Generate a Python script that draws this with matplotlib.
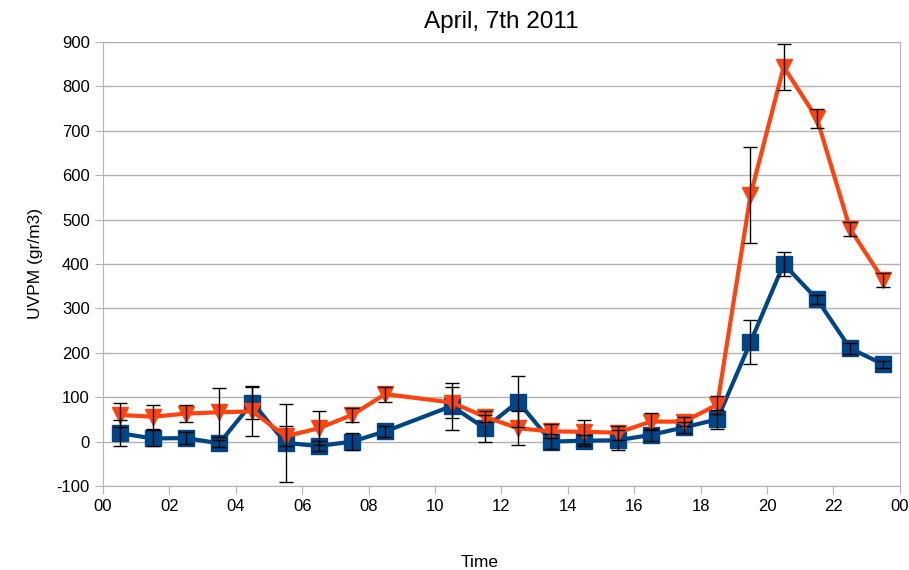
import matplotlib.pyplot as plt

plt.rcParams["font.family"] = ["Liberation Sans", "DejaVu Sans"]
plt.rcParams["axes.unicode_minus"] = False

# hours (half past each hour), no sample at 09:30
hours = [0.5, 1.5, 2.5, 3.5, 4.5, 5.5, 6.5, 7.5, 8.5, 10.5, 11.5, 12.5, 13.5,
         14.5, 15.5, 16.5, 17.5, 18.5, 19.5, 20.5, 21.5, 22.5, 23.5]

red_vals = [60, 56, 63, 66, 68, 12, 30, 60, 107, 88, 56, 30, 23,
            22, 20, 45, 45, 83, 555, 844, 728, 479, 364]
red_err = [28, 27, 19, 55, 55, 22, 38, 16, 17, 35, 12, 38, 16,
           27, 16, 19, 10, 20, 108, 52, 22, 16, 16]

blue_vals = [19, 7, 8, -4, 88, -3, -10, 0, 23, 80, 30, 90, 0,
             2, 3, 15, 32, 50, 224, 400, 321, 210, 174]
blue_err = [29, 18, 13, 8, 38, 88, 12, 20, 13, 53, 31, 57, 17,
            12, 22, 14, 12, 22, 49, 26, 10, 12, 8]

xticks = list(range(0, 25, 2))
xlabels = ["%02d" % (h % 24) for h in xticks]

fig = plt.figure(figsize=(9.09, 5.70), dpi=100)
ax = fig.add_axes([0.1133, 0.1474, 0.8767, 0.7789])

ax.plot(hours, blue_vals, color="#004586", lw=3, marker="s", ms=11.5, zorder=3)
ax.plot(hours, red_vals, color="#ff420e", lw=3, marker="v", ms=12, zorder=3)
ax.errorbar(hours, blue_vals, yerr=blue_err, fmt="none", ecolor="black",
            elinewidth=1, capsize=5, capthick=1, zorder=4)
ax.errorbar(hours, red_vals, yerr=red_err, fmt="none", ecolor="black",
            elinewidth=1, capsize=5, capthick=1, zorder=4)

ax.set_xlim(0, 24)
ax.set_ylim(-100, 900)
ax.set_xticks(xticks)
ax.set_xticklabels(xlabels)
ax.set_yticks(range(-100, 901, 100))
ax.yaxis.grid(True, color="#b3b3b3", lw=1)
ax.set_axisbelow(True)
for s in ax.spines.values():
    s.set_color("#b3b3b3")
ax.tick_params(colors="#b3b3b3", labelcolor="black", labelsize=12, length=6)

ax.set_title("April, 7th 2011", fontsize=17.5, pad=10)
fig.text(0.528, 0.013, "Time", fontsize=12.5, ha="center", va="center")
ax.set_ylabel("UVPM (gr/m3)", fontsize=12.5, labelpad=10)

fig.savefig("out.png", dpi=100)
